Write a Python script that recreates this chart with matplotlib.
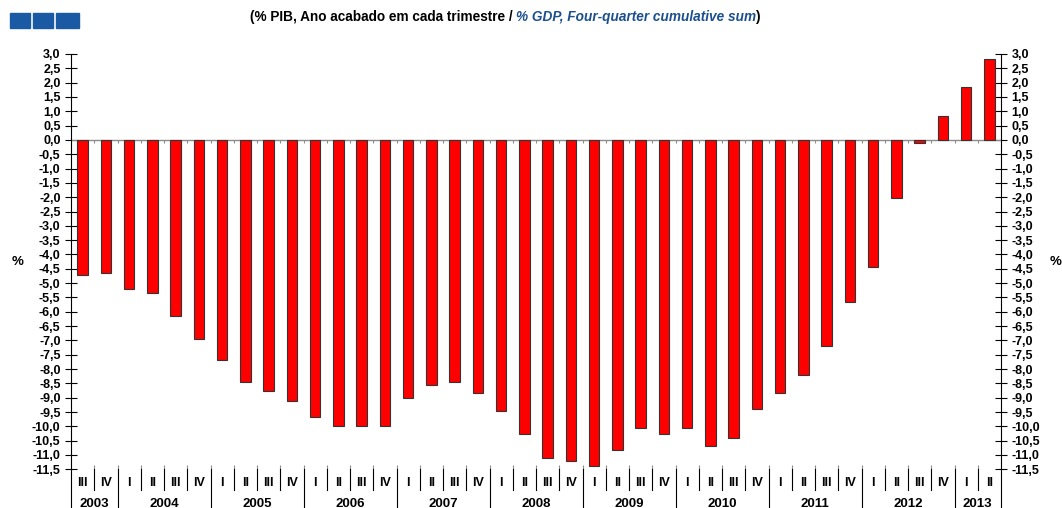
import matplotlib.pyplot as plt
from matplotlib.patches import Rectangle
from matplotlib.transforms import blended_transform_factory

plt.rcParams['font.family'] = ['Liberation Sans', 'DejaVu Sans']
plt.rcParams['font.weight'] = 'bold'

# trimestres e anos
years = ['2003', '2004', '2005', '2006', '2007', '2008', '2009', '2010', '2011', '2012', '2013']
quarters_per_year = [2, 4, 4, 4, 4, 4, 4, 4, 4, 4, 2]
quarter_labels = ['III', 'IV'] + ['I', 'II', 'III', 'IV'] * 9 + ['I', 'II']

# % PIB, ano acabado em cada trimestre
values = [-4.71, -4.65, -5.20, -5.34, -6.16, -6.96, -7.70, -8.46, -8.75, -9.12,
          -9.67, -10.00, -9.98, -9.98, -9.02, -8.54, -8.44, -8.82, -9.47, -10.28,
          -11.10, -11.22, -11.40, -10.84, -10.07, -10.28, -10.07, -10.70, -10.41, -9.39,
          -8.82, -8.21, -7.21, -5.67, -4.44, -2.03, -0.10, 0.83, 1.85, 2.82]

y_ticks = [-11.5 + 0.5 * i for i in range(30)]
title_pt = '(% PIB, Ano acabado em cada trimestre / '
title_en = '% GDP, Four-quarter cumulative sum'
blue = '#1b4f8f'

fig = plt.figure(figsize=(10.62, 5.08), dpi=100)
ax = fig.add_axes([71 / 1062, 1 - 469.3 / 508, 930 / 1062, (469.3 - 54) / 508])

x = list(range(len(values)))
ax.bar(x, values, width=0.45, color='#ff0000', edgecolor='#333333', linewidth=0.8, zorder=3)
ax.axhline(0, color='#8c8c8c', linewidth=1, zorder=2)

boundaries = [i + 0.5 for i in range(-1, len(values))]
# pequenos tracos no eixo zero
ax.vlines(boundaries[1:-1], -0.11, 0, color='#8c8c8c', linewidth=0.8, zorder=2)

ax.set_xlim(-0.5, len(values) - 0.5)
ax.set_ylim(-11.5, 3.0)
ax.set_yticks(y_ticks)
ax.set_yticklabels([f'{v:.1f}'.replace('.', ',') for v in y_ticks])
ax.tick_params(axis='y', which='both', direction='inout', length=9, width=0.8,
               left=True, right=True, labelleft=True, labelright=True,
               labelsize=9, pad=3)
ax.set_xticks(boundaries[1:-1])
ax.tick_params(axis='x', direction='in', length=3, color='#8c8c8c', labelbottom=False)

for side in ['top', 'bottom']:
    ax.spines[side].set_visible(False)
for side in ['left', 'right']:
    ax.spines[side].set_linewidth(0.8)

# rotulos dos trimestres e anos
trans = blended_transform_factory(ax.transData, fig.transFigure)
y_axis = 1 - 469.3 / 508
y_q_end = 1 - 490 / 508
for i, lab in enumerate(quarter_labels):
    ax.text(i, 1 - 483 / 508, lab, transform=trans, ha='center', va='center',
            fontsize=9, fontweight='bold')

year_edges = [-0.5]
for n in quarters_per_year:
    year_edges.append(year_edges[-1] + n)
for i, yr in enumerate(years):
    mid = (year_edges[i] + year_edges[i + 1]) / 2
    ax.text(mid, 1 - 504 / 508, yr, transform=trans, ha='center', va='center',
            fontsize=9.5, fontweight='bold')

for b in boundaries:
    bottom = 0 if b in year_edges else y_q_end
    ax.plot([b, b], [y_axis, bottom], transform=trans, color='black',
            linewidth=0.8, clip_on=False)

# %
fig.text(18 / 1062, 1 - 262 / 508, '%', ha='center', va='center', fontsize=9.5, fontweight='bold')
fig.text(1056 / 1062, 1 - 262 / 508, '%', ha='center', va='center', fontsize=9.5, fontweight='bold')

# titulo em tres partes
t1 = fig.text(250 / 1062, 1 - 17 / 508, title_pt, ha='left', va='center',
              fontsize=9.8, fontweight='bold')
t2 = ax.annotate(title_en, xy=(1, 0), xycoords=t1, va='bottom', ha='left',
                 fontsize=9.8, fontweight='bold', fontstyle='italic', color=blue)
ax.annotate(')', xy=(1, 0), xycoords=t2, va='bottom', ha='left',
            fontsize=9.8, fontweight='bold')

# logotipo
for x0, w in [(10, 20), (32.5, 20), (56, 23)]:
    fig.patches.append(Rectangle((x0 / 1062, 1 - 28 / 508), w / 1062, 15 / 508,
                                 transform=fig.transFigure, color='#1a5aa5'))

fig.savefig('out.png', dpi=100)
